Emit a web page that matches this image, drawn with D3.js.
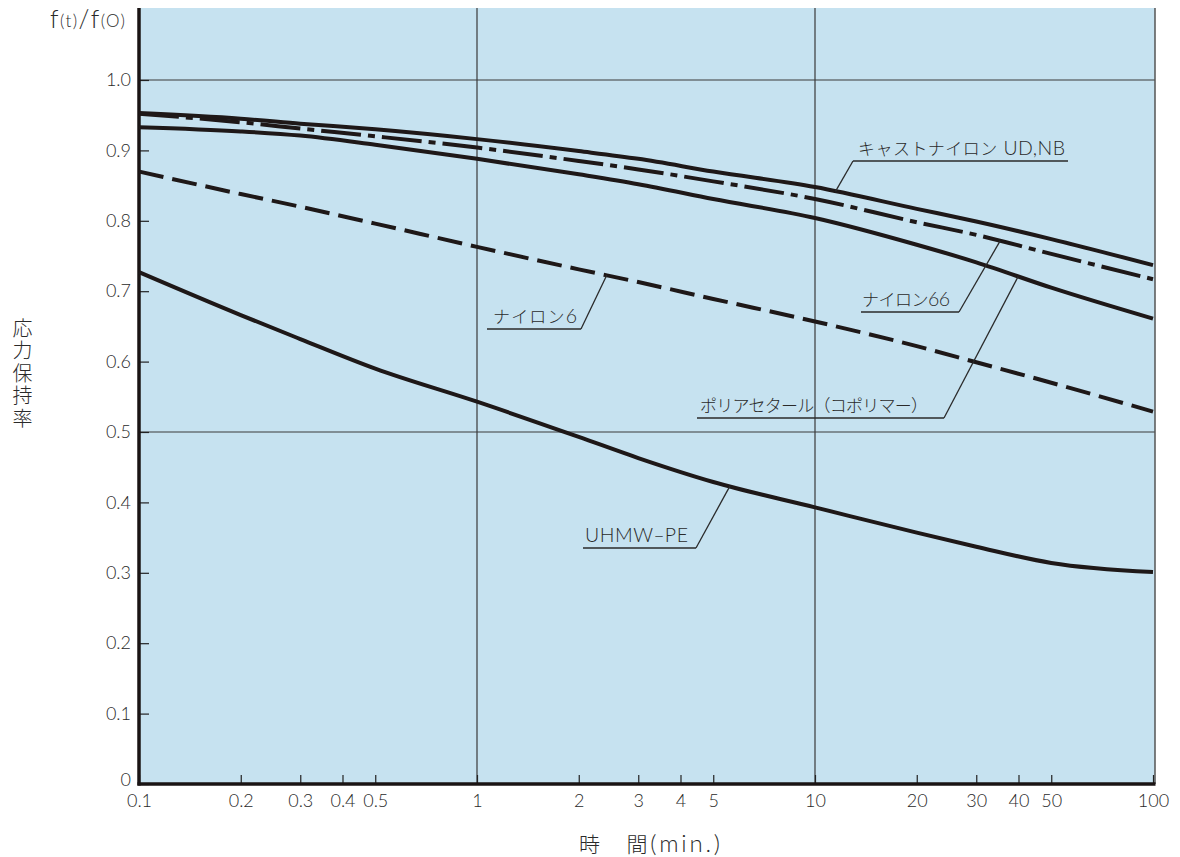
<!DOCTYPE html>
<html>
<head>
<meta charset="utf-8">
<script src="https://cdn.jsdelivr.net/npm/d3@7"></script>
<style>
  html, body { margin: 0; padding: 0; background: #fff; }
  svg { display: block; }
  text { font-family: "Lato", "Noto Sans CJK JP", sans-serif; font-weight: 300; fill: #2a2a2a; }
</style>
</head>
<body>
<svg id="chart" width="1180" height="857"></svg>
<script>
// Time axis (min.) and the stress retention ratio f(t)/f(0) for each material
const times = [0.1, 0.2, 0.3, 0.5, 1, 2, 3, 5, 10, 20, 30, 50, 100];

const castNylon   = [0.953, 0.945, 0.938, 0.930, 0.916, 0.899, 0.888, 0.870, 0.848, 0.817, 0.799, 0.774, 0.737];
const nylon66     = [0.952, 0.940, 0.931, 0.920, 0.904, 0.885, 0.873, 0.856, 0.831, 0.798, 0.780, 0.753, 0.717];
const polyacetal  = [0.933, 0.927, 0.921, 0.908, 0.888, 0.866, 0.852, 0.831, 0.804, 0.766, 0.741, 0.705, 0.661];
const nylon6      = [0.870, 0.838, 0.820, 0.796, 0.763, 0.731, 0.713, 0.689, 0.657, 0.622, 0.599, 0.570, 0.529];
const uhmwpe      = [0.727, 0.666, 0.632, 0.590, 0.543, 0.493, 0.463, 0.429, 0.393, 0.357, 0.337, 0.314, 0.301];

const xTickValues = [0.1, 0.2, 0.3, 0.4, 0.5, 1, 2, 3, 4, 5, 10, 20, 30, 40, 50, 100];
const xTickLabels = ["0.1", "0.2", "0.3", "0.4", "0.5", "1", "2", "3", "4", "5", "10", "20", "30", "40", "50", "100"];
const yTickValues = [0, 0.1, 0.2, 0.3, 0.4, 0.5, 0.6, 0.7, 0.8, 0.9, 1.0];
const yTickLabels = ["0", "0.1", "0.2", "0.3", "0.4", "0.5", "0.6", "0.7", "0.8", "0.9", "1.0"];
const gridX = [1, 10];
const gridY = [0.5, 1.0];

// Series names, split into kana part and latin part
const seriesNames = [
  ["キャストナイロン", " UD,NB"],
  ["ナイロン", "66"],
  ["ポリアセタール（コポリマー）", ""],
  ["ナイロン", "6"],
  ["", "UHMW‒PE"]
];

(function () {
  const svg = d3.select("#chart");
  const pLeft = 139, pRight = 1155, pTop = 8, pBottom = 784;
  const fontFamily = "'Lato', 'Noto Sans CJK JP', sans-serif";

  const x = d3.scaleLog().domain([0.1, 100]).range([pLeft, 1153]);
  const y = d3.scaleLinear().domain([0, 1.1]).range([pBottom, 9.6]);

  // Plot background
  svg.append("rect")
    .attr("x", pLeft).attr("y", pTop)
    .attr("width", pRight - pLeft).attr("height", pBottom - pTop)
    .attr("fill", "#c6e2f0");

  // Grid lines
  svg.append("g").selectAll("line").data(gridX).join("line")
    .attr("x1", d => x(d)).attr("x2", d => x(d))
    .attr("y1", pTop).attr("y2", pBottom)
    .attr("stroke", "#3a3a3a").attr("stroke-width", 1.2);
  svg.append("g").selectAll("line").data(gridY).join("line")
    .attr("x1", pLeft).attr("x2", pRight)
    .attr("y1", d => y(d)).attr("y2", d => y(d))
    .attr("stroke", "#3a3a3a").attr("stroke-width", 1.2);

  // Right frame
  svg.append("line")
    .attr("x1", pRight).attr("x2", pRight).attr("y1", pTop).attr("y2", pBottom)
    .attr("stroke", "#555").attr("stroke-width", 1.5);

  // Y axis: inner ticks and labels
  const yAxis = d3.axisLeft(y).tickValues(yTickValues)
    .tickFormat((d, i) => yTickLabels[i]).tickSizeInner(-10).tickSizeOuter(0).tickPadding(8);
  const gy = svg.append("g").attr("transform", `translate(${pLeft},0)`).call(yAxis);
  gy.select(".domain").remove();
  gy.selectAll(".tick line").attr("stroke", "#222").attr("stroke-width", 1.2);
  gy.selectAll(".tick text").attr("font-size", 18).attr("fill", "#2a2a2a")
    .style("font-family", fontFamily).style("font-weight", 300)
    .attr("y", d => (d === 0 ? -4 : 0));

  // X axis: inner ticks and labels
  const xAxis = d3.axisBottom(x).tickValues(xTickValues)
    .tickFormat((d, i) => xTickLabels[i]).tickSizeInner(-9).tickSizeOuter(0).tickPadding(10);
  const gx = svg.append("g").attr("transform", `translate(0,${pBottom})`).call(xAxis);
  gx.select(".domain").remove();
  gx.selectAll(".tick line").attr("stroke", "#222").attr("stroke-width", 1.2);
  gx.selectAll(".tick text").attr("font-size", 18).attr("fill", "#2a2a2a")
    .style("font-family", fontFamily).style("font-weight", 300);

  // Thick left and bottom axis lines
  svg.append("line").attr("x1", pLeft).attr("x2", pLeft).attr("y1", pTop).attr("y2", pBottom + 1.5)
    .attr("stroke", "#1a1414").attr("stroke-width", 3.5);
  svg.append("line").attr("x1", pLeft - 1.5).attr("x2", pRight + 0.5).attr("y1", pBottom).attr("y2", pBottom)
    .attr("stroke", "#1a1414").attr("stroke-width", 3.5);

  // Curves
  const line = d3.line().x(d => x(d[0])).y(d => y(d[1])).curve(d3.curveMonotoneX);
  const curves = [
    { values: castNylon,  dash: null },
    { values: nylon66,    dash: "40,7,7,7" },
    { values: polyacetal, dash: null },
    { values: nylon6,     dash: "25,9" },
    { values: uhmwpe,     dash: null }
  ];
  const gc = svg.append("g");
  curves.forEach(c => {
    gc.append("path")
      .datum(times.map((t, i) => [t, c.values[i]]))
      .attr("d", line)
      .attr("fill", "none")
      .attr("stroke", "#1e1818")
      .attr("stroke-width", 4)
      .attr("stroke-dasharray", c.dash);
  });

  // Callout labels with leader lines
  const callouts = [
    { name: seriesNames[0], tx: 858, w: 207, uy: 161, ux0: 853, ux1: 1068, t: 11.5, s: castNylon, from: "start" },
    { name: seriesNames[1], tx: 862, w: 88,  uy: 312, ux0: 861, ux1: 959,  t: 35.3, s: nylon66, from: "end" },
    { name: seriesNames[2], tx: 700, w: 228, uy: 418, ux0: 697, ux1: 944,  t: 39.9, s: polyacetal, from: "end" },
    { name: seriesNames[3], tx: 493, w: 84,  uy: 329, ux0: 487, ux1: 581,  t: 2.42, s: nylon6, from: "end" },
    { name: seriesNames[4], tx: 585, w: 103, uy: 548, ux0: 583, ux1: 696,  t: 5.6,  s: uhmwpe, from: "end" }
  ];
  const interp = (s, t) => {
    const lt = Math.log10(t);
    for (let i = 0; i < times.length - 1; i++) {
      const a = Math.log10(times[i]), b = Math.log10(times[i + 1]);
      if (lt >= a && lt <= b) return s[i] + (s[i + 1] - s[i]) * (lt - a) / (b - a);
    }
    return s[s.length - 1];
  };
  const gl = svg.append("g");
  callouts.forEach(c => {
    const ax = x(c.t), ay = y(interp(c.s, c.t));
    gl.append("line")
      .attr("x1", c.ux0).attr("y1", c.uy).attr("x2", c.ux1).attr("y2", c.uy)
      .attr("stroke", "#2a2a2a").attr("stroke-width", 1.3);
    const lx = c.from === "start" ? c.ux0 : c.ux1;
    gl.append("line")
      .attr("x1", lx).attr("y1", c.uy).attr("x2", ax).attr("y2", ay)
      .attr("stroke", "#2a2a2a").attr("stroke-width", 1.3);
    const tt = gl.append("text")
      .attr("x", c.tx).attr("y", c.uy - 6)
      .attr("font-size", 17)
      .attr("textLength", c.w)
      .attr("lengthAdjust", "spacing");
    if (c.name[0]) tt.append("tspan").attr("font-size", 17).text(c.name[0]);
    if (c.name[1]) tt.append("tspan").attr("font-size", 19.5).text(c.name[1]);
  });

  // Y-axis quantity label f(t)/f(0)
  const yq = svg.append("text").attr("x", 50).attr("y", 28)
    .attr("textLength", 75).attr("lengthAdjust", "spacing");
  yq.append("tspan").attr("font-size", 25).text("f");
  yq.append("tspan").attr("font-size", 17).attr("dy", -1).text("(t)");
  yq.append("tspan").attr("font-size", 25).attr("dy", 1).text("/f");
  yq.append("tspan").attr("font-size", 17).attr("dy", -1).text("(O)");

  // Vertical axis title, set top to bottom
  svg.append("text")
    .attr("x", 22).attr("y", 318)
    .attr("writing-mode", "tb")
    .attr("glyph-orientation-vertical", 0)
    .style("writing-mode", "vertical-rl")
    .style("text-orientation", "upright")
    .style("letter-spacing", "2.5px")
    .attr("font-size", 20)
    .text("応力保持率");

  // Horizontal axis title
  const xt = svg.append("text")
    .attr("x", 579).attr("y", 852)
    .attr("textLength", 141).attr("lengthAdjust", "spacing");
  xt.append("tspan").attr("font-size", 21).text("時　間");
  xt.append("tspan").attr("font-size", 24).text("(min.)");
})();
</script>
</body>
</html>
